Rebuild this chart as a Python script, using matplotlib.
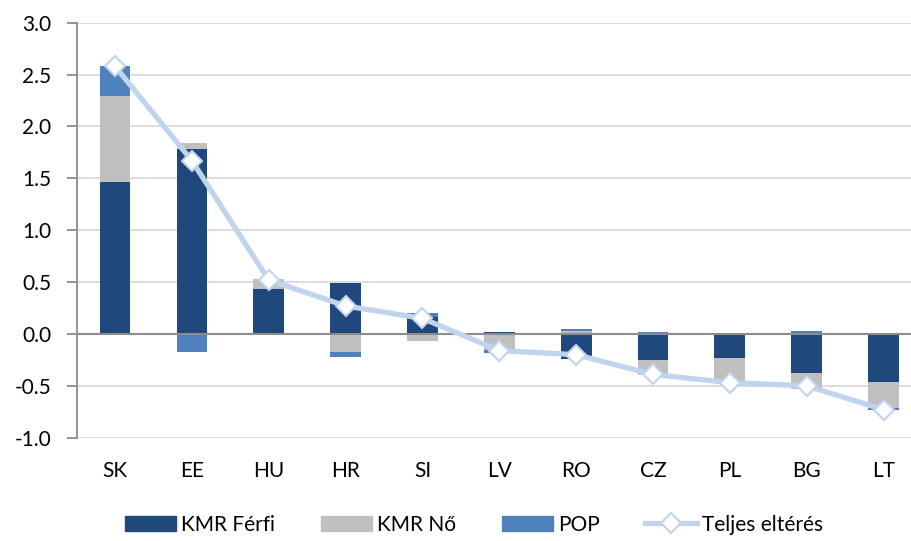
import numpy as np
import matplotlib.pyplot as plt
from matplotlib.lines import Line2D
from matplotlib.patches import Patch

plt.rcParams['font.family'] = ['Lato', 'DejaVu Sans']

countries = ["SK", "EE", "HU", "HR", "SI", "LV", "RO", "CZ", "PL", "BG", "LT"]
kmr_ferfi = [1.46, 1.785, 0.43, 0.49, 0.16, 0.02, -0.245, -0.25, -0.23, -0.38, -0.46]
kmr_no = [0.83, 0.055, 0.095, -0.17, -0.065, -0.15, 0.03, -0.15, -0.225, -0.15, -0.25]
pop = [0.29, -0.17, 0.0, -0.05, 0.045, -0.035, 0.015, 0.015, -0.01, 0.025, -0.02]
teljes = [2.58, 1.67, 0.52, 0.27, 0.15, -0.16, -0.20, -0.39, -0.47, -0.50, -0.73]

c_ferfi = "#1F487C"
c_no = "#BFBFBF"
c_pop = "#4F81BD"
c_line = "#C0D4EE"

fig = plt.figure(figsize=(9.11, 5.41), dpi=100)
ax = fig.add_axes([76.6 / 911, 103.3 / 541, 845.4 / 911, 415 / 541])

x = np.arange(len(countries))
pos_bottom = np.zeros(len(countries))
neg_bottom = np.zeros(len(countries))
for vals, col in [(kmr_ferfi, c_ferfi), (kmr_no, c_no), (pop, c_pop)]:
    v = np.array(vals)
    bottom = np.where(v >= 0, pos_bottom, neg_bottom)
    ax.bar(x, v, width=0.4, bottom=bottom, color=col, zorder=2)
    pos_bottom += np.where(v >= 0, v, 0)
    neg_bottom += np.where(v < 0, v, 0)

ax.plot(x, teljes, color=c_line, lw=3.8, marker="D", markersize=10,
        markerfacecolor="white", markeredgecolor=c_line, markeredgewidth=1.5,
        zorder=3)

ax.set_xlim(-0.5, len(countries) - 0.5)
ax.set_ylim(-1.0, 3.0)
ax.set_yticks(np.arange(-1.0, 3.01, 0.5))
ax.set_yticklabels([f"{t:.1f}" for t in np.arange(-1.0, 3.01, 0.5)])
ax.set_xticks(x)
ax.set_xticklabels(countries)
ax.grid(axis="y", color="#D9D9D9", lw=1.3, zorder=0)
ax.axhline(0, color="#8C8C8C", lw=1.5, zorder=2.5)

for s in ["top", "right", "bottom"]:
    ax.spines[s].set_visible(False)
ax.spines["left"].set_color("#8C8C8C")
ax.spines["left"].set_linewidth(1.3)
ax.tick_params(axis="y", length=7, width=1.3, color="#8C8C8C",
               labelsize=15, pad=11)
ax.tick_params(axis="x", length=0, labelsize=15, pad=17)

handles = [
    Patch(color=c_ferfi, label="KMR Férfi"),
    Patch(color=c_no, label="KMR Nő"),
    Patch(color=c_pop, label="POP"),
    Line2D([0], [0], color=c_line, lw=3.8, marker="D", markersize=10,
           markerfacecolor="white", markeredgecolor=c_line,
           markeredgewidth=1.5, label="Teljes eltérés"),
]
fig.legend(handles=handles, loc="center", bbox_to_anchor=(0.52, 0.03),
           ncol=4, frameon=False, fontsize=15, handlelength=2.45,
           handleheight=0.7, handletextpad=0.25, columnspacing=2.2)

fig.savefig("out.png", dpi=100)
